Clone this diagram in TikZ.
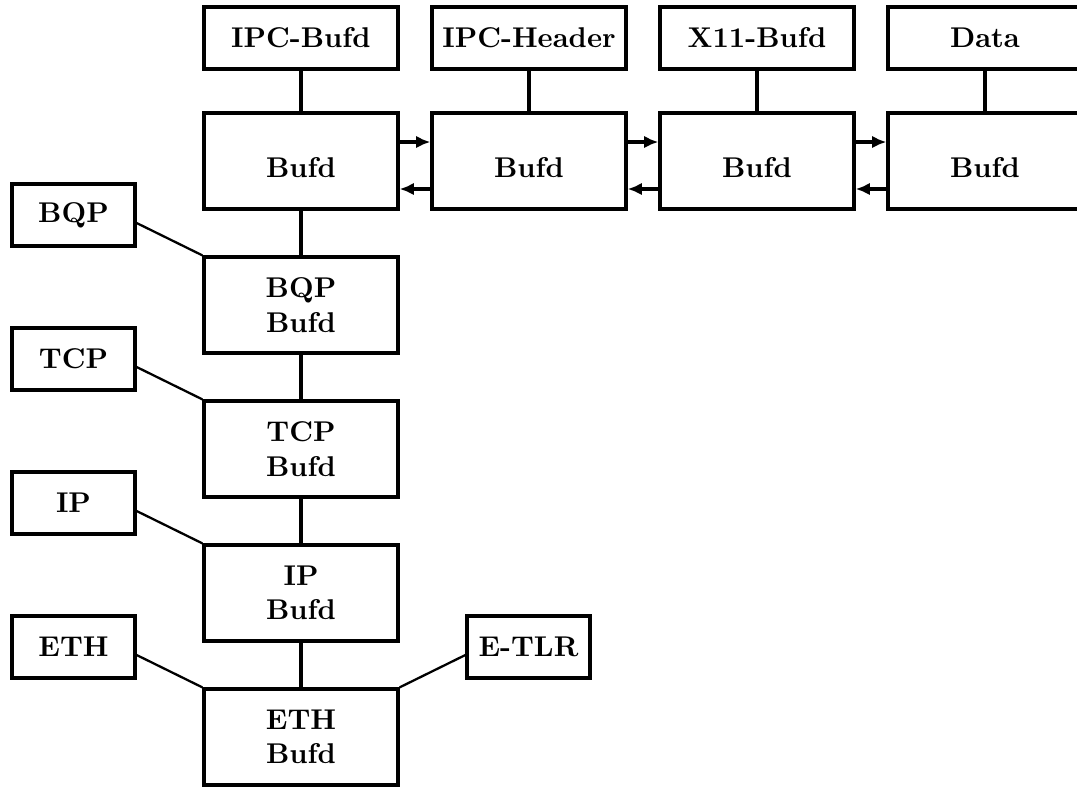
\documentclass[tikz,border=0pt]{standalone}
\usetikzlibrary{calc,arrows.meta}
\begin{document}
\begin{tikzpicture}[x=0.35pt,y=-0.35pt,line width=1.15pt,
  box/.style={draw,rectangle,inner sep=0pt,font=\bfseries,align=center},
  bigbox/.style={box,minimum width=67.9pt,minimum height=33.6pt},
  onebox/.style={bigbox,text height=11.2pt,text depth=0pt},
  topbox/.style={box,minimum width=67.9pt,minimum height=21.7pt},
  smallbox/.style={box,minimum width=43.05pt,minimum height=21.7pt},
  arr/.style={-{Latex[length=5pt,width=4.4pt]}}]
\clip (0,0) rectangle (1077,786);
% top row
\node[topbox] (t1) at (301,38) {IPC-Bufd};
\node[topbox] (t2) at (529,38) {IPC-Header};
\node[topbox] (t3) at (757,38) {X11-Bufd};
\node[topbox] (t4) at (985,38) {Data};
% bufd row
\node[onebox] (b1) at (301,161) {Bufd};
\node[onebox] (b2) at (529,161) {Bufd};
\node[onebox] (b3) at (757,161) {Bufd};
\node[onebox] (b4) at (985,161) {Bufd};
% left column
\node[bigbox] (bqpb) at (301,305) {BQP\\Bufd};
\node[bigbox] (tcpb) at (301,449) {TCP\\Bufd};
\node[bigbox] (ipb) at (301,593) {IP\\Bufd};
\node[bigbox] (ethb) at (301,737) {ETH\\Bufd};
% small boxes
\node[smallbox] (bqp) at (73.5,215) {BQP};
\node[smallbox] (tcp) at (73.5,359) {TCP};
\node[smallbox] (ip) at (73.5,503) {IP};
\node[smallbox] (eth) at (73.5,647) {ETH};
\node[smallbox] (etlr) at (528.5,647) {E-TLR};
% vertical connectors
\draw (t1) -- (b1);
\draw (t2) -- (b2);
\draw (t3) -- (b3);
\draw (t4) -- (b4);
\draw (b1) -- (bqpb);
\draw (bqpb) -- (tcpb);
\draw (tcpb) -- (ipb);
\draw (ipb) -- (ethb);
% side connectors
\draw[line width=0.8pt] ($(bqp.east)+(0,8)$) -- (bqpb.north west);
\draw[line width=0.8pt] ($(tcp.east)+(0,8)$) -- (tcpb.north west);
\draw[line width=0.8pt] ($(ip.east)+(0,8)$) -- (ipb.north west);
\draw[line width=0.8pt] ($(eth.east)+(0,8)$) -- (ethb.north west);
\draw[line width=0.8pt] ($(etlr.west)+(0,8)$) -- (ethb.north east);
% arrows
\draw[arr] ($(b1.east)+(0,-19)$) -- ($(b2.west)+(0,-19)$);
\draw[arr] ($(b2.west)+(0,28)$) -- ($(b1.east)+(0,28)$);
\draw[arr] ($(b2.east)+(0,-19)$) -- ($(b3.west)+(0,-19)$);
\draw[arr] ($(b3.west)+(0,28)$) -- ($(b2.east)+(0,28)$);
\draw[arr] ($(b3.east)+(0,-19)$) -- ($(b4.west)+(0,-19)$);
\draw[arr] ($(b4.west)+(0,28)$) -- ($(b3.east)+(0,28)$);
\end{tikzpicture}
\end{document}
